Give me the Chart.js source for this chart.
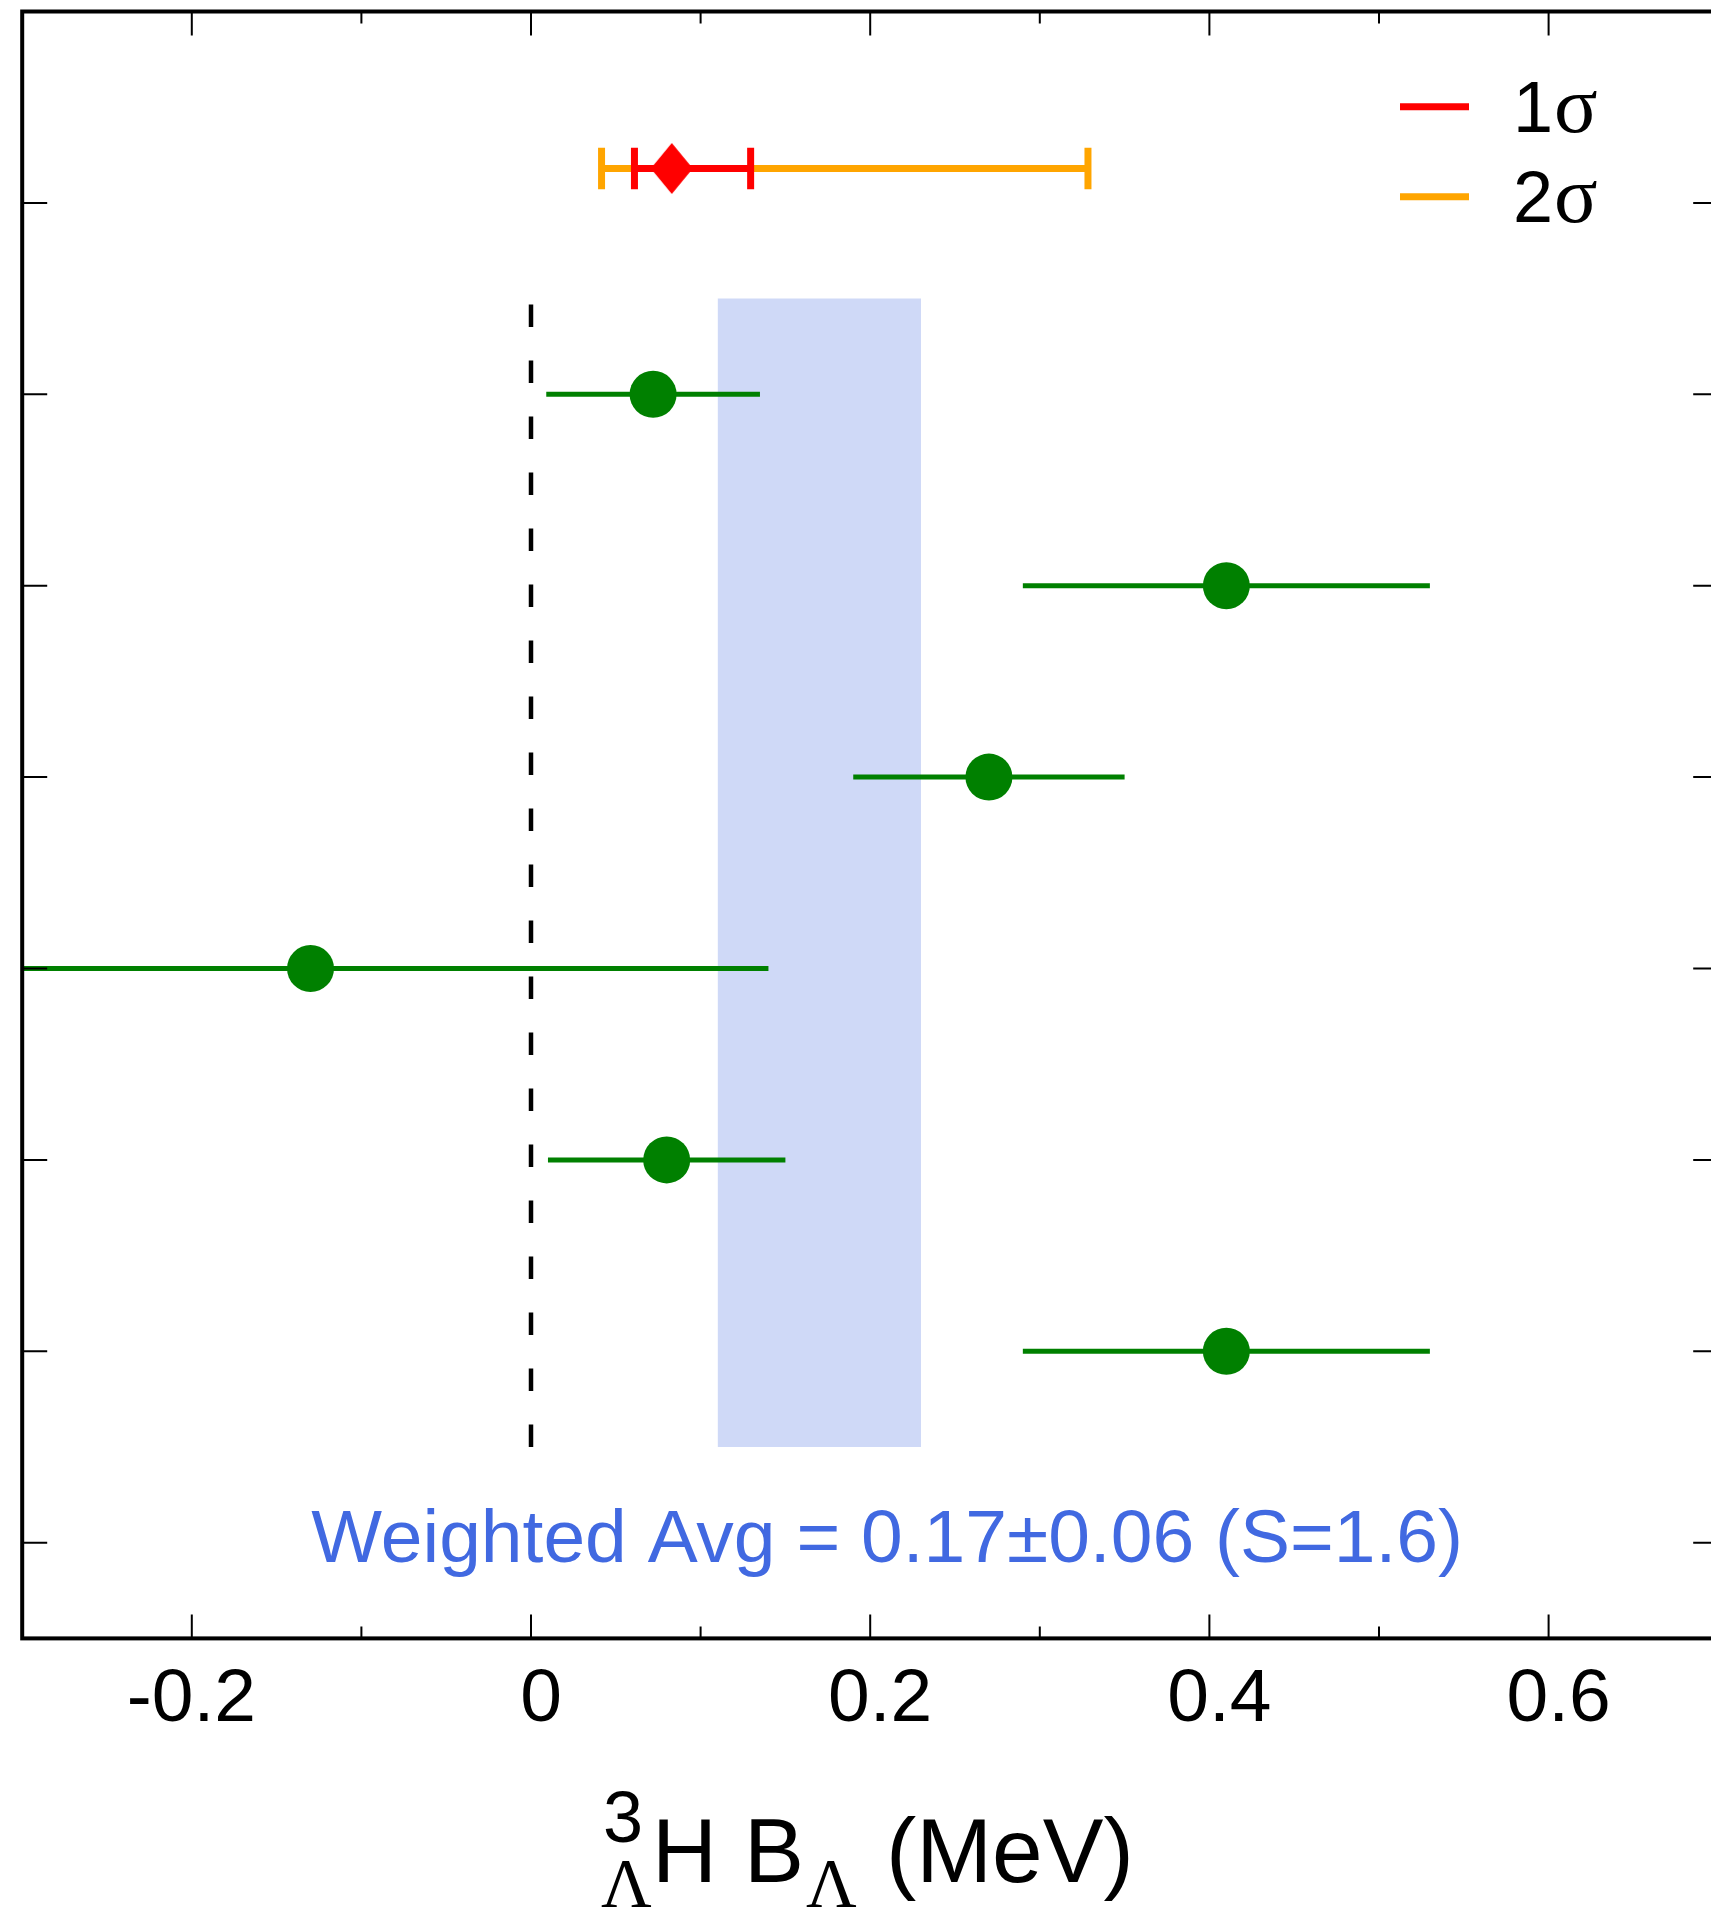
<!DOCTYPE html>
<html>
<head>
<meta charset="utf-8">
<title>Hypertriton binding energy</title>
<script src="https://cdn.jsdelivr.net/npm/chart.js@4.4.1/dist/chart.umd.min.js"></script>
<style>
  html, body { margin: 0; padding: 0; background: #fff; overflow: hidden; }
</style>
</head>
<body>
<canvas id="myChart" width="1720" height="1912"></canvas>
<script>
// single measurements, top row first
const rows = [7, 6, 5, 4, 3, 2];
const values = [0.072, 0.41, 0.27, -0.13, 0.08, 0.41];
const errors = [0.063, 0.12, 0.08, 0.27, 0.07, 0.12];

// combined result at the top
const combRow = 8.18;
const combValue = 0.083;
const oneSigma = [0.061, 0.1295];
const twoSigma = [0.0416, 0.3284];

// weighted average band + zero line
const avgBand = [0.11, 0.23];
const bandRows = [1.5, 7.5];
const zeroLine = 0;
const avgLabel = 'Weighted Avg = 0.17\u00b10.06 (S=1.6)';
const avgLabelAt = [0.21, 1];

const xTickValues = [-0.2, 0, 0.2, 0.4, 0.6];
// trailing space on the negative label keeps its minus sign hanging left, like the original
const xTickLabels = ['-0.2 ', '0', '0.2', '0.4', '0.6'];
const xMinorTicks = [-0.1, 0.1, 0.3, 0.5];
const yTickValues = [1, 2, 3, 4, 5, 6, 7, 8];

const SANS = '"Liberation Sans", Arial, Helvetica, sans-serif';
const SERIF = '"Liberation Serif", "Times New Roman", serif';

// red diamond marker (a bit taller than wide)
const diamond = document.createElement('canvas');
diamond.width = 42;
diamond.height = 51;
const dctx = diamond.getContext('2d');
dctx.fillStyle = '#ff0000';
dctx.beginPath();
dctx.moveTo(21, 0);
dctx.lineTo(42, 25.5);
dctx.lineTo(21, 51);
dctx.lineTo(0, 25.5);
dctx.closePath();
dctx.fill();

let datasets = [];

datasets.push({
    type: 'scatter',
    data: [{x: combValue, y: combRow}],
    pointStyle: diamond,
    pointRadius: 24,
    order: 0
});

function sigmaBar(range, color, order) {
    return {
        type: 'line',
        data: range.map(x => ({x: x, y: combRow})),
        borderColor: color,
        borderWidth: 7,
        pointStyle: 'line',
        pointRotation: 90,
        pointRadius: 20.7,
        pointBorderWidth: 7,
        pointBorderColor: color,
        order: order
    };
}
datasets.push(sigmaBar(oneSigma, '#ff0000', 1));
datasets.push(sigmaBar(twoSigma, '#ffa500', 2));

datasets.push({
    type: 'scatter',
    data: rows.map((r, i) => ({x: values[i], y: r})),
    backgroundColor: '#008000',
    borderWidth: 0,
    pointRadius: 23.5,
    order: 3
});

rows.forEach(function(r, i) {
    datasets.push({
        type: 'line',
        data: [{x: values[i] - errors[i], y: r}, {x: values[i] + errors[i], y: r}],
        borderColor: '#008000',
        borderWidth: 5,
        pointRadius: 0,
        clip: 0,
        order: 4
    });
});

// dashed line at zero, drawn bottom-up
datasets.push({
    type: 'line',
    data: bandRows.map(y => ({x: zeroLine, y: y})),
    borderColor: '#000000',
    borderWidth: 4.5,
    borderDash: [22.6, 33.4],
    pointRadius: 0,
    order: 5
});

// band = fill between two flat lines
datasets.push({
    type: 'line',
    data: avgBand.map(x => ({x: x, y: bandRows[1]})),
    borderWidth: 0,
    pointRadius: 0,
    fill: '+1',
    backgroundColor: 'rgba(65,105,225,0.25)',
    order: 6
});
datasets.push({
    type: 'line',
    data: avgBand.map(x => ({x: x, y: bandRows[0]})),
    borderWidth: 0,
    pointRadius: 0,
    fill: false,
    order: 7
});

// frame with inward ticks on all four sides
const framePlugin = {
    id: 'frame',
    afterDraw(chart) {
        const ctx = chart.ctx;
        const a = chart.chartArea;
        const x = chart.scales.x, y = chart.scales.y;
        ctx.save();
        ctx.strokeStyle = '#000';
        ctx.lineWidth = 2;
        ctx.beginPath();
        xTickValues.forEach(function(v) {
            let px = x.getPixelForValue(v);
            ctx.moveTo(px, a.bottom); ctx.lineTo(px, a.bottom - 24);
            ctx.moveTo(px, a.top); ctx.lineTo(px, a.top + 24);
        });
        xMinorTicks.forEach(function(v) {
            let px = x.getPixelForValue(v);
            ctx.moveTo(px, a.bottom); ctx.lineTo(px, a.bottom - 12);
            ctx.moveTo(px, a.top); ctx.lineTo(px, a.top + 12);
        });
        yTickValues.forEach(function(v) {
            let py = y.getPixelForValue(v);
            ctx.moveTo(a.left, py); ctx.lineTo(a.left + 25, py);
            ctx.moveTo(a.right, py); ctx.lineTo(a.right - 25, py);
        });
        ctx.stroke();
        ctx.lineWidth = 4;
        ctx.strokeRect(a.left, a.top, a.right - a.left, a.bottom - a.top);
        ctx.restore();
    }
};

// legend, average label, axis title
const textPlugin = {
    id: 'texts',
    afterDraw(chart) {
        const ctx = chart.ctx;
        const x = chart.scales.x, y = chart.scales.y;
        ctx.save();

        ctx.fillStyle = '#4169e1';
        ctx.font = '75px ' + SANS;
        ctx.textAlign = 'center';
        ctx.textBaseline = 'alphabetic';
        ctx.fillText(avgLabel, x.getPixelForValue(avgLabelAt[0]), y.getPixelForValue(avgLabelAt[1]) + 19);

        // legend
        ctx.textAlign = 'left';
        [['#ff0000', '1', 106.7, 131.7], ['#ffa500', '2', 196.7, 221.7]].forEach(function(item) {
            ctx.strokeStyle = item[0];
            ctx.lineWidth = 7;
            ctx.beginPath();
            ctx.moveTo(1400, item[2]);
            ctx.lineTo(1469, item[2]);
            ctx.stroke();
            ctx.fillStyle = '#000';
            ctx.font = '72px ' + SANS;
            ctx.fillText(item[1], 1513, item[3]);
            ctx.font = '81px ' + SERIF;
            ctx.fillText('\u03c3', 1554, item[3]);
        });

        // axis title: 3/Lambda H  B_Lambda (MeV)
        ctx.fillStyle = '#000';
        ctx.font = '72px ' + SANS;
        ctx.fillText('3', 603, 1842);
        ctx.font = '70px ' + SERIF;
        ctx.fillText('\u039b', 601, 1907);
        ctx.font = '90px ' + SANS;
        ctx.fillText('H', 652, 1882);
        ctx.fillText('B', 744, 1882);
        ctx.font = '70px ' + SERIF;
        ctx.fillText('\u039b', 806, 1907);
        ctx.font = '91px ' + SANS;
        ctx.fillText('(MeV)', 886, 1882);

        ctx.restore();
    }
};

new Chart(document.getElementById('myChart'), {
    type: 'scatter',
    data: { datasets: datasets },
    options: {
        responsive: false,
        devicePixelRatio: 1,
        animation: false,
        events: [],
        layout: { autoPadding: false, padding: { left: 0, top: 11.5, right: 1.8, bottom: 0 } },
        plugins: {
            legend: { display: false },
            tooltip: { enabled: false }
        },
        scales: {
            x: {
                type: 'linear',
                min: -0.3,
                max: 0.7,
                afterBuildTicks: function(scale) {
                    scale.ticks = xTickValues.map(v => ({value: v}));
                },
                afterFit: function(scale) { scale.height = 273.6; },
                grid: { display: false, drawTicks: false },
                border: { display: false },
                ticks: {
                    autoSkip: false,
                    maxRotation: 0,
                    padding: 17,
                    labelOffset: 10,
                    color: '#000',
                    font: { family: SANS, size: 75 },
                    callback: function(value, index) { return xTickLabels[index]; }
                }
            },
            y: {
                type: 'linear',
                min: 0.5,
                max: 9,
                afterFit: function(scale) { scale.width = 22.2; },
                grid: { display: false, drawTicks: false },
                border: { display: false },
                ticks: { display: false }
            }
        }
    },
    plugins: [framePlugin, textPlugin]
});
</script>
</body>
</html>
